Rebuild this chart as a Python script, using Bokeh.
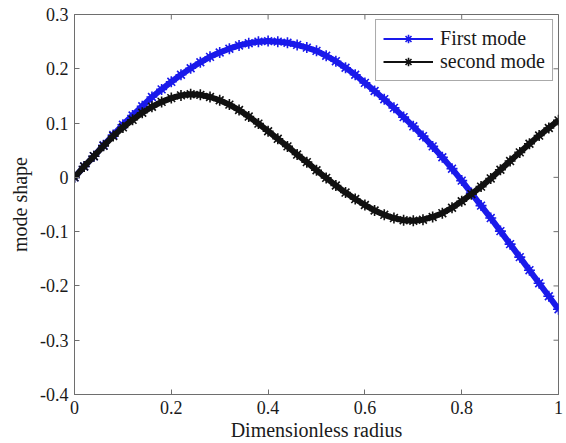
from bokeh.plotting import figure
from bokeh.models import (FixedTicker, Range1d, Legend, LegendItem,
                          CustomJSTickFormatter)
from bokeh.embed import file_html
from bokeh.resources import INLINE

# ---- data ----
radius = [0.00, 0.02, 0.04, 0.06, 0.08, 0.10, 0.12, 0.14, 0.16, 0.18,
          0.20, 0.22, 0.24, 0.26, 0.28, 0.30, 0.32, 0.34, 0.36, 0.38,
          0.40, 0.42, 0.44, 0.46, 0.48, 0.50, 0.52, 0.54, 0.56, 0.58,
          0.60, 0.62, 0.64, 0.66, 0.68, 0.70, 0.72, 0.74, 0.76, 0.78,
          0.80, 0.82, 0.84, 0.86, 0.88, 0.90, 0.92, 0.94, 0.96, 0.98, 1.00]

first_mode = [0.000, 0.020, 0.039, 0.059, 0.078, 0.097, 0.114, 0.131, 0.148, 0.162,
              0.176, 0.189, 0.201, 0.212, 0.222, 0.230, 0.237, 0.243, 0.247, 0.250,
              0.251, 0.250, 0.248, 0.244, 0.239, 0.233, 0.224, 0.214, 0.202, 0.189,
              0.174, 0.159, 0.144, 0.128, 0.111, 0.094, 0.076, 0.057, 0.037, 0.016,
              -0.006, -0.029, -0.052, -0.075, -0.099, -0.123, -0.147, -0.171, -0.195, -0.219, -0.243]

second_mode = [0.000, 0.020, 0.039, 0.058, 0.076, 0.092, 0.106, 0.119, 0.130, 0.139,
               0.146, 0.151, 0.153, 0.152, 0.148, 0.142, 0.134, 0.124, 0.112, 0.099,
               0.085, 0.071, 0.057, 0.042, 0.028, 0.013, -0.001, -0.015, -0.028, -0.040,
               -0.051, -0.061, -0.069, -0.075, -0.079, -0.080, -0.078, -0.073, -0.066, -0.056,
               -0.044, -0.031, -0.017, -0.002, 0.014, 0.030, 0.046, 0.062, 0.077, 0.091, 0.105]

series_labels = ["First mode", "second mode"]

x_ticks = [0, 0.2, 0.4, 0.6, 0.8, 1]
x_tick_labels = ["0", "0.2", "0.4", "0.6", "0.8", "1"]
y_ticks = [-0.4, -0.3, -0.2, -0.1, 0, 0.1, 0.2, 0.3]
y_tick_labels = ["-0.4", "-0.3", "-0.2", "-0.1", "0", "0.1", "0.2", "0.3"]

x_label = "Dimensionless radius"
y_label = "mode shape"

x_min, x_max = 0, 1
y_min, y_max = -0.4, 0.3

# ---- styling ----
FONT = "Liberation Serif"
AXIS_COL = "#6e6e6e"
TEXT_COL = "#1a1a1a"
BLUE = "#1a1aeb"
BLACK = "#111111"

p = figure(width=566, height=443,
           x_range=Range1d(x_min, x_max), y_range=Range1d(y_min, y_max),
           output_backend="svg", toolbar_location=None,
           min_border_left=74, min_border_right=8,
           min_border_top=14, min_border_bottom=48)
p.xgrid.visible = False
p.ygrid.visible = False
p.outline_line_color = AXIS_COL
p.background_fill_color = "white"
p.border_fill_color = "white"

fmt_code = """
const i = tvals.findIndex(t => Math.abs(t - tick) < 1e-9);
return i >= 0 ? tlabs[i] : '';
"""

def style_axis(ax, ticks, labels):
    ax.ticker = FixedTicker(ticks=ticks)
    ax.formatter = CustomJSTickFormatter(args=dict(tvals=ticks, tlabs=labels), code=fmt_code)
    ax.major_tick_in = 5
    ax.major_tick_out = 0
    ax.minor_tick_line_color = None
    ax.axis_line_color = AXIS_COL
    ax.major_tick_line_color = AXIS_COL
    ax.major_label_text_font = FONT
    ax.major_label_text_color = TEXT_COL
    ax.major_label_text_font_size = "18px"
    ax.axis_label_text_font = FONT
    ax.axis_label_text_font_style = "normal"
    ax.axis_label_text_color = TEXT_COL
    ax.axis_label_text_font_size = "20px"

style_axis(p.xaxis[0], x_ticks, x_tick_labels)
style_axis(p.yaxis[0], y_ticks, y_tick_labels)
p.xaxis[0].axis_label = x_label
p.yaxis[0].axis_label = y_label
p.xaxis[0].major_label_standoff = 6
p.xaxis[0].axis_label_standoff = 2
p.yaxis[0].major_label_standoff = 6
p.yaxis[0].axis_label_standoff = 6

# mirrored inward ticks on the top and right edges (half of each dash is clipped by the frame)
p.scatter(x_ticks, [y_max] * len(x_ticks), marker="dash", angle=1.5708, size=10,
          line_color=AXIS_COL, line_width=1)
p.scatter([x_max] * len(y_ticks), y_ticks, marker="dash", size=10,
          line_color=AXIS_COL, line_width=1)

# ---- curves ----
items = []
for ys, col, lab in [(first_mode, BLUE, series_labels[0]), (second_mode, BLACK, series_labels[1])]:
    thin = p.line(radius, ys, line_color=col, line_width=2)
    p.line(radius, ys, line_color=col, line_width=6)
    sc = p.scatter(radius, ys, marker="asterisk", size=11, line_color=col, line_width=1.6)
    items.append(LegendItem(label=lab, renderers=[thin, sc]))

legend = Legend(items=items, location="top_right", margin=5,
                border_line_color="#555555", border_line_width=1,
                background_fill_color="white", background_fill_alpha=1.0,
                label_text_font=FONT, label_text_font_size="20px",
                label_text_color=TEXT_COL,
                padding=7, spacing=0, glyph_width=50, glyph_height=21,
                label_height=21, label_standoff=7)
p.add_layout(legend)

open("out.html", "w").write(file_html(p, INLINE))
